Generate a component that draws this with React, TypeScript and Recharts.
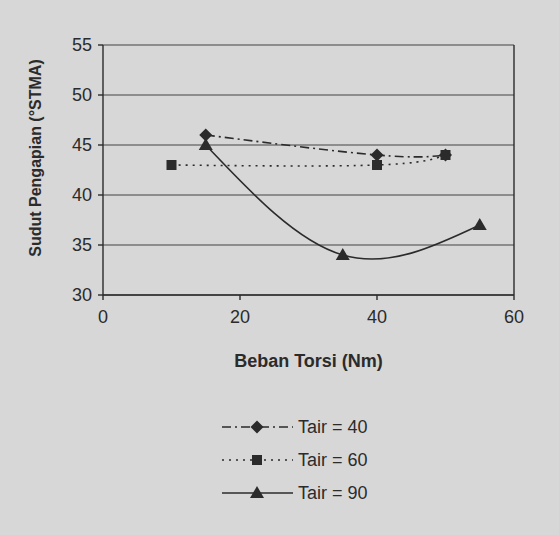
import {
  LineChart,
  Line,
  XAxis,
  YAxis,
  CartesianGrid,
  ReferenceLine,
} from 'recharts';

// Beban Torsi (Nm) vs Sudut Pengapian (°STMA), one array per Tair series
const tair40 = [
  { x: 15, y: 46 },
  { x: 40, y: 44 },
  { x: 50, y: 44 },
];
const tair60 = [
  { x: 10, y: 43 },
  { x: 40, y: 43 },
  { x: 50, y: 44 },
];
const tair90 = [
  { x: 15, y: 45 },
  { x: 35, y: 34 },
  { x: 55, y: 37 },
];

const xTicks = [0, 20, 40, 60];
const yTicks = [30, 35, 40, 45, 50, 55];

const INK = '#2b2b2b';
const PAPER = '#d7d7d7';
const FONT = '"Liberation Sans", Arial, sans-serif';

const marker = (kind: string, cx: number, cy: number, key?: any) => {
  if (cx == null || cy == null) return null;
  if (kind === 'diamond') {
    return (
      <path
        key={key}
        d={`M${cx},${cy - 6.5} L${cx + 6.5},${cy} L${cx},${cy + 6.5} L${cx - 6.5},${cy} Z`}
        fill={INK}
      />
    );
  }
  if (kind === 'square') {
    return <rect key={key} x={cx - 5} y={cy - 5} width={10} height={10} fill={INK} />;
  }
  return (
    <path
      key={key}
      d={`M${cx},${cy - 7} L${cx + 7},${cy + 5} L${cx - 7},${cy + 5} Z`}
      fill={INK}
    />
  );
};

const SERIES = [
  { name: 'Tair = 40', data: tair40, dash: '9 4 2 4', kind: 'diamond' },
  { name: 'Tair = 60', data: tair60, dash: '2 5', kind: 'square' },
  { name: 'Tair = 90', data: tair90, dash: undefined, kind: 'triangle' },
];

// legend drawn outside the chart so it doesn't eat into the plot height
const LegendBox = () => (
  <svg
    width={180}
    height={100}
    style={{ position: 'absolute', left: 215, top: 417, overflow: 'visible' }}
  >
    {SERIES.map((s, i) => {
      const y = 10 + i * 33;
      return (
        <g key={s.name}>
          <line x1={7} x2={78} y1={y} y2={y} stroke={INK} strokeWidth={1.6} strokeDasharray={s.dash} />
          {marker(s.kind, 42, y)}
          <text x={83} y={y + 6} fontSize={18} fill={INK} fontFamily={FONT}>
            {s.name}
          </text>
        </g>
      );
    })}
  </svg>
);

export default function App() {
  return (
    <div
      style={{
        position: 'fixed',
        left: 0,
        top: 0,
        width: 559,
        height: 535,
        background: PAPER,
        fontFamily: FONT,
      }}
    >
      <LineChart
        width={559}
        height={535}
        margin={{ top: 45, right: 45, bottom: 210, left: 43 }}
      >
        <CartesianGrid horizontal vertical={false} stroke="#444" strokeWidth={1.2} />
        <XAxis
          type="number"
          dataKey="x"
          domain={[0, 60]}
          ticks={xTicks}
          height={30}
          tickSize={5}
          tickMargin={10}
          stroke={INK}
          strokeWidth={1.4}
          tick={{ fontSize: 18, fill: INK, fontFamily: FONT }}
          label={{
            value: 'Beban Torsi  (Nm)',
            position: 'insideBottom',
            offset: -42,
            style: { fontSize: 18, fontWeight: 'bold', fill: INK, fontFamily: FONT, whiteSpace: 'pre' },
          }}
        />
        <YAxis
          type="number"
          domain={[30, 55]}
          ticks={yTicks}
          width={60}
          tickSize={5}
          tickMargin={6}
          stroke={INK}
          strokeWidth={1.4}
          tick={{ fontSize: 18, fill: INK, fontFamily: FONT }}
          label={{
            value: 'Sudut Pengapian (°STMA)',
            angle: -90,
            position: 'insideLeft',
            offset: -8,
            dy: -12,
            style: { fontSize: 16, fontWeight: 'bold', fill: INK, fontFamily: FONT, textAnchor: 'middle' },
          }}
        />
        <ReferenceLine x={60} stroke={INK} strokeWidth={1.4} />
        {SERIES.map((s) => (
          <Line
            key={s.name}
            data={s.data}
            dataKey="y"
            name={s.name}
            type="natural"
            stroke={INK}
            strokeWidth={1.6}
            strokeDasharray={s.dash}
            dot={(p: any) => marker(s.kind, p.cx, p.cy, p.key ?? `${s.name}-${p.index}`)}
            activeDot={false}
            isAnimationActive={false}
          />
        ))}
      </LineChart>
      <LegendBox />
    </div>
  );
}
